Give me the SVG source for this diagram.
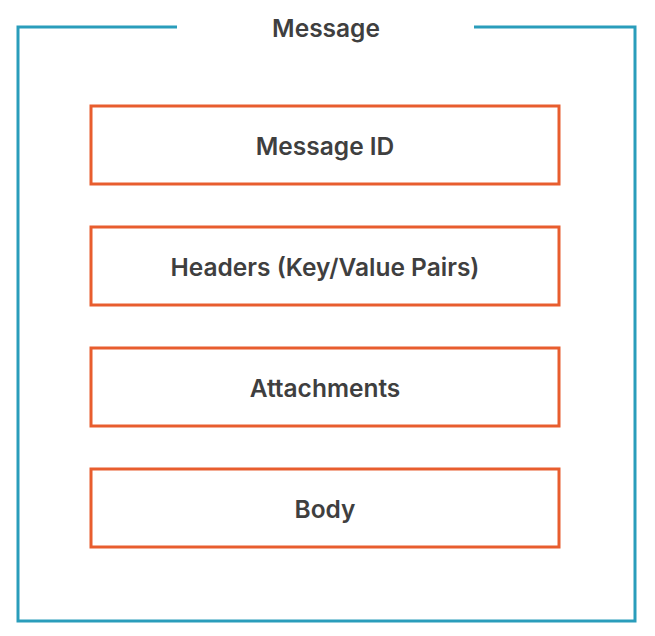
<svg xmlns="http://www.w3.org/2000/svg" width="655" height="636" viewBox="0 0 655 636">
<style>
.frame{fill:none;stroke:#2a9dbb;stroke-width:3}
.box{fill:#ffffff;stroke:#e85d2e;stroke-width:3}
.t{font-family:Inter,"Noto Sans","Liberation Sans",sans-serif;font-weight:600;font-size:24.5px;fill:#3f3f3f;text-anchor:middle;dominant-baseline:central}
</style>
<rect width="655" height="636" fill="#ffffff"/>
<g id="message">
<path class="frame" d="M177 27 H18 V621 H635 V27 H474"/>
<text class="t" x="326" y="28">Message</text>
</g>
<g id="message-id"><rect class="box" x="91" y="106" width="468" height="78"/><text class="t" x="325" y="146">Message ID</text></g>
<g id="headers"><rect class="box" x="91" y="227" width="468" height="78"/><text class="t" x="325" y="267">Headers (Key/Value Pairs)</text></g>
<g id="attachments"><rect class="box" x="91" y="348" width="468" height="78"/><text class="t" x="325" y="388">Attachments</text></g>
<g id="body"><rect class="box" x="91" y="469" width="468" height="78"/><text class="t" x="325" y="509">Body</text></g>
<g id="connectors"/>
</svg>
